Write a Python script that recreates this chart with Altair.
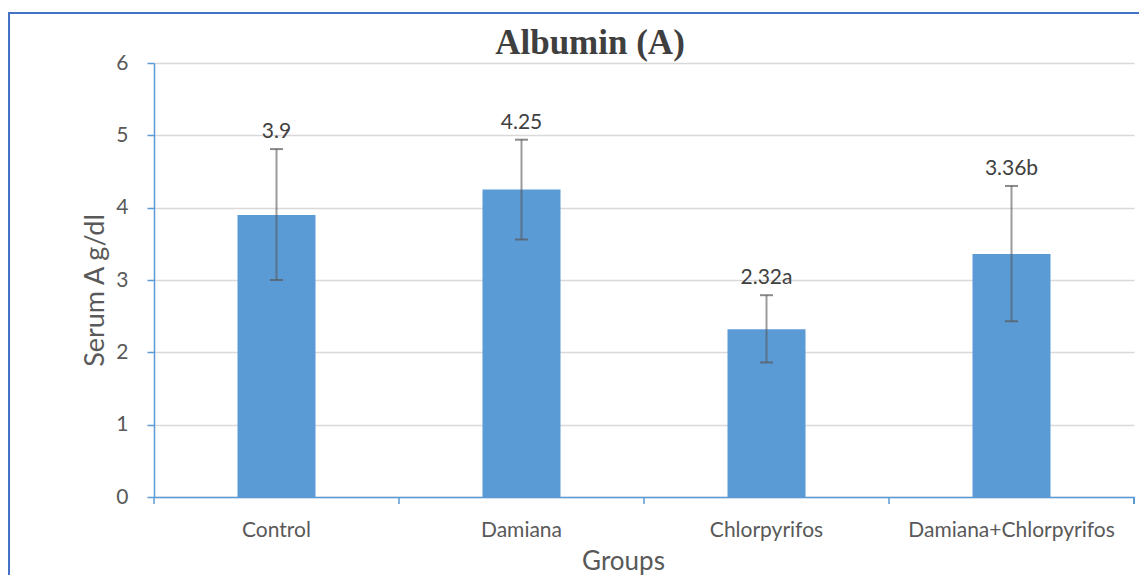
import altair as alt
import pandas as pd

groups = ["Control", "Damiana", "Chlorpyrifos", "Damiana+Chlorpyrifos"]
means = [3.9, 4.25, 2.32, 3.36]
lower = [3.0, 3.56, 1.86, 2.43]
upper = [4.81, 4.94, 2.79, 4.30]
labels = ["3.9", "4.25", "2.32a", "3.36b"]
chart_title = ["Albumin (A)"]

df = pd.DataFrame({"group": groups, "mean": means, "lower": lower,
                   "upper": upper, "label": labels})
tdf = pd.DataFrame({"t": chart_title})

FONT = "Lato"
GRAY = "#595959"
BLUE = "#5B9BD5"

xscale = alt.Scale(paddingInner=0, paddingOuter=0)
yscale = alt.Scale(domain=[0, 6], nice=False)

x = alt.X("group:N", sort=groups, title="Groups", scale=xscale,
          axis=alt.Axis(labelAngle=0, ticks=False, labelLimit=400,
                        labelPadding=22, labelFontSize=21, labelColor=GRAY,
                        labelFont=FONT, titleFont=FONT, titleFontSize=26,
                        titleColor=GRAY, titleFontWeight="normal",
                        titleX=469, titleY=72, titleBaseline="alphabetic",
                        domainColor=BLUE, domainWidth=1.5, grid=False))
y = alt.Y("mean:Q", title="Serum A g/dl", scale=yscale,
          axis=alt.Axis(values=[0, 1, 2, 3, 4, 5, 6], format="d",
                        tickSize=7, tickColor=BLUE, tickWidth=1.5,
                        labelPadding=19, labelFontSize=21, labelColor=GRAY,
                        labelFont=FONT, titleFont=FONT, titleFontSize=27,
                        titleColor=GRAY, titleFontWeight="normal",
                        titleX=-59, titleY=227, titleBaseline="middle",
                        domainColor=BLUE, domainWidth=1.5,
                        gridColor="#d9d9d9", gridWidth=1.5))

base = alt.Chart(df)

bars = base.mark_bar(color=BLUE, size=78).encode(x=x, y=y)

# x ticks at category boundaries
xticks = base.mark_rule(color=BLUE, strokeWidth=1.5).encode(
    x=alt.X("group:N", sort=groups, bandPosition=0),
    y=alt.value(434), y2=alt.value(441))
end_tick = base.mark_rule(color=BLUE, strokeWidth=1.5).encode(
    x=alt.value(980), y=alt.value(434), y2=alt.value(441))

stems = base.mark_rule(color=GRAY, strokeWidth=2, opacity=0.6).encode(
    x=alt.X("group:N", sort=groups), y="lower:Q", y2="upper:Q")
cap_lo = base.mark_tick(color=GRAY, size=13, thickness=2,
                        orient="horizontal").encode(
    x=alt.X("group:N", sort=groups), y="lower:Q")
cap_hi = base.mark_tick(color=GRAY, size=13, thickness=2,
                        orient="horizontal").encode(
    x=alt.X("group:N", sort=groups), y="upper:Q")

text = base.mark_text(font=FONT, fontSize=21, color="#404040",
                      baseline="bottom", dy=-7).encode(
    x=alt.X("group:N", sort=groups), y="upper:Q", text="label:N")

title = alt.Chart(tdf).mark_text(font="Liberation Serif", fontSize=35,
                                 fontWeight="bold", color="#3f3f3f",
                                 baseline="alphabetic", align="center").encode(
    x=alt.value(436), y=alt.value(-9), text="t:N")

frame = alt.Chart(tdf).mark_rect(fillOpacity=0, stroke="#4472C4",
                                 strokeWidth=2).encode(
    x=alt.value(-145), x2=alt.value(1010),
    y=alt.value(-50), y2=alt.value(560))

chart = alt.layer(bars, xticks, end_tick, stems, cap_lo, cap_hi, text,
                  title, frame).properties(
    width=980, height=434,
    autosize=alt.AutoSizeParams(type="none"),
    padding={"left": 146, "top": 55, "right": 5, "bottom": 78},
).configure(background="white").configure_view(strokeWidth=0)

chart.save("out.html", embed_options={"renderer": "svg", "actions": False})
